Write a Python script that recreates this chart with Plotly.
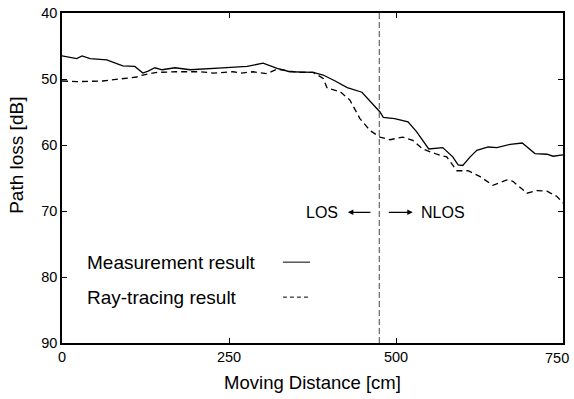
import plotly.graph_objects as go

# Moving distance (cm) and path loss (dB) for the two results
meas_x = [0, 22, 30, 42, 67, 91, 109, 121, 129, 139, 150, 169, 192, 217, 240, 277,
          301, 322, 341, 376, 391, 409, 427, 449, 461, 476, 481, 498, 518, 531, 549,
          570, 585, 593, 600, 611, 621, 638, 651, 671, 689, 708, 726, 735, 750]
meas_y = [46.5, 46.9, 46.5, 46.9, 47.1, 48.0, 48.1, 49.1, 48.8, 48.3, 48.6, 48.3, 48.6,
          48.5, 48.3, 48.1, 47.6, 48.4, 48.9, 49.0, 49.4, 50.3, 51.3, 52.0, 53.4, 55.0,
          55.8, 56.0, 56.5, 58.0, 60.6, 60.4, 61.8, 63.0, 63.1, 61.8, 60.8, 60.3, 60.4,
          59.9, 59.7, 61.3, 61.4, 61.7, 61.5]

ray_x = [0, 22, 61, 87, 112, 121, 142, 172, 207, 226, 256, 269, 286, 307, 322, 341,
         356, 376, 391, 397, 416, 431, 446, 461, 476, 491, 510, 525, 540, 561, 576,
         591, 608, 626, 645, 666, 675, 696, 711, 726, 741, 750]
ray_y = [50.3, 50.4, 50.3, 50.0, 49.7, 49.4, 49.0, 48.9, 48.9, 49.1, 48.9, 49.1, 48.9,
         49.2, 48.5, 48.8, 49.0, 49.0, 49.9, 51.4, 51.9, 53.2, 56.0, 57.8, 58.8, 59.2,
         58.8, 59.3, 60.6, 61.4, 61.8, 63.9, 63.9, 64.8, 66.1, 65.3, 65.5, 67.3, 66.9,
         67.0, 67.8, 68.8]

x_ticks = [0, 250, 500, 750]
y_ticks = [40, 50, 60, 70, 80, 90]
los_boundary_cm = 475

FONT = "Liberation Sans, Arial, sans-serif"
TICK_SIZE = 14.5

fig = go.Figure()
fig.add_trace(go.Scatter(x=meas_x, y=meas_y, mode="lines", name="Measurement result",
                         line=dict(color="black", width=1.3), showlegend=False))
fig.add_trace(go.Scatter(x=ray_x, y=ray_y, mode="lines", name="Ray-tracing result",
                         line=dict(color="black", width=1.3, dash="6px,4px"),
                         showlegend=False))

# LOS / NLOS boundary
fig.add_shape(type="line", xref="x", yref="paper", x0=los_boundary_cm, x1=los_boundary_cm,
              y0=0, y1=1, line=dict(color="#666666", width=1.2, dash="6px,3px"))

# LOS / NLOS labels with arrows
fig.add_annotation(x=389, y=70.3, text="LOS", showarrow=False,
                   font=dict(family=FONT, size=16, color="black"))
fig.add_annotation(x=570, y=70.3, text="NLOS", showarrow=False,
                   font=dict(family=FONT, size=16, color="black"))
fig.add_annotation(x=428, y=70.2, ax=464, ay=70.2, axref="x", ayref="y", text="",
                   showarrow=True, arrowhead=2, arrowsize=0.9, arrowwidth=1.2,
                   arrowcolor="black")
fig.add_annotation(x=525, y=70.2, ax=487, ay=70.2, axref="x", ayref="y", text="",
                   showarrow=True, arrowhead=2, arrowsize=0.9, arrowwidth=1.2,
                   arrowcolor="black")

# Hand-placed legend: label on the left, line sample on the right
legend_rows = [("Measurement result", 0.245, "solid"), ("Ray-tracing result", 0.139, "4px,3px")]
for label, ypos, dash in legend_rows:
    fig.add_annotation(xref="paper", yref="paper", x=0.045, y=ypos, text=label,
                       showarrow=False, xanchor="left", yanchor="middle",
                       font=dict(family=FONT, size=19, color="black"))
    fig.add_shape(type="line", xref="paper", yref="paper", x0=0.441, x1=0.495,
                  y0=ypos, y1=ypos, line=dict(color="black", width=1, dash=dash))

# Y-axis title placed slightly above centre
fig.add_annotation(xref="paper", yref="paper", x=-0.09, y=0.57, text="Path loss [dB]",
                   textangle=-90, showarrow=False, xanchor="center", yanchor="middle",
                   font=dict(family=FONT, size=19, color="black"))

# The last x tick label is pulled inward so it stays inside the figure
x_ticktext = [str(v) for v in x_ticks[:-1]] + [""]
fig.add_annotation(x=x_ticks[-1], xref="x", yref="paper", y=0, yanchor="top",
                   xanchor="right", xshift=8, yshift=-5, text=str(x_ticks[-1]),
                   showarrow=False, font=dict(family=FONT, size=TICK_SIZE, color="black"))

axis_common = dict(showline=True, linecolor="black", linewidth=1.5, mirror="allticks",
                   ticks="inside", ticklen=5, tickwidth=1, tickcolor="black",
                   showgrid=False, zeroline=False, automargin=False,
                   tickfont=dict(family=FONT, size=TICK_SIZE, color="black"))

fig.update_xaxes(range=[0, 750], tickvals=x_ticks, ticktext=x_ticktext,
                 title=dict(text="Moving Distance [cm]", standoff=12,
                            font=dict(family=FONT, size=18.5, color="black")),
                 **axis_common)
fig.update_yaxes(range=[90, 40], tickvals=y_ticks, ticktext=[str(v) for v in y_ticks],
                 **axis_common)

fig.update_layout(width=574, height=399, margin=dict(l=62, r=11, t=13, b=56),
                  plot_bgcolor="white", paper_bgcolor="white")

fig.write_html("out.html")
